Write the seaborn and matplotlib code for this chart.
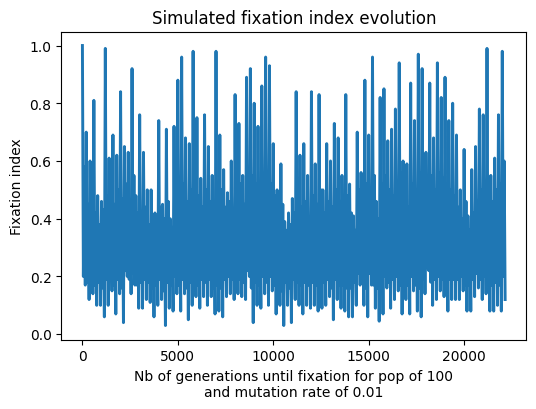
"""
Simulated fixation index evolution over generations (pop 100, mu 0.01).

Line plot of the fixation index, drawn with seaborn on plain matplotlib style.
Output: out.png
"""

import matplotlib

matplotlib.use("Agg")

import matplotlib.pyplot as plt
import numpy as np
import pandas as pd
import seaborn as sns

STEP = 50  # generations between consecutive samples

# local maxima, one per ~200 generations
PEAKS = [
    1.00, 0.70, 0.60, 0.81, 0.48, 0.46, 0.99, 0.61, 0.69, 0.62,
    0.84, 0.65, 0.63, 0.92, 0.48, 0.76, 0.63, 0.50, 0.50, 0.42,
    0.74, 0.45, 0.71, 0.40, 0.72, 0.88, 0.96, 0.68, 0.66, 0.98,
    0.75, 0.54, 0.76, 0.65, 0.55, 0.98, 0.69, 0.57, 0.49, 0.60,
    0.83, 0.73, 0.55, 0.89, 0.92, 0.80, 0.72, 0.86, 0.96, 0.93,
    0.66, 0.50, 0.59, 0.39, 0.42, 0.47, 0.84, 0.62, 0.66, 0.55,
    0.84, 0.59, 0.83, 0.50, 0.66, 0.60, 0.73, 0.68, 0.55, 0.83,
    0.52, 0.41, 0.70, 0.56, 0.88, 0.69, 0.96, 0.46, 0.82, 0.85,
    0.67, 0.71, 0.78, 0.94, 0.60, 0.59, 0.87, 0.74, 0.97, 0.92,
    0.63, 0.87, 0.68, 0.94, 0.82, 0.89, 0.74, 0.80, 0.69, 0.50,
    0.64, 0.41, 0.57, 0.65, 0.78, 0.76, 0.99, 0.55, 0.61, 0.76,
    0.98,
]

# local minima in between the peaks
TROUGHS = [
    0.17, 0.12, 0.14, 0.10, 0.10, 0.06, 0.10, 0.15, 0.07, 0.14,
    0.04, 0.20, 0.14, 0.17, 0.09, 0.09, 0.12, 0.11, 0.06, 0.10,
    0.12, 0.03, 0.09, 0.08, 0.14, 0.08, 0.14, 0.05, 0.10, 0.13,
    0.09, 0.13, 0.10, 0.13, 0.07, 0.08, 0.06, 0.13, 0.14, 0.12,
    0.14, 0.13, 0.12, 0.20, 0.04, 0.10, 0.09, 0.14, 0.10, 0.15,
    0.07, 0.10, 0.03, 0.10, 0.04, 0.12, 0.10, 0.07, 0.10, 0.09,
    0.10, 0.08, 0.09, 0.10, 0.13, 0.05, 0.12, 0.09, 0.08, 0.06,
    0.06, 0.10, 0.17, 0.10, 0.06, 0.17, 0.09, 0.045, 0.07, 0.16,
    0.09, 0.12, 0.15, 0.07, 0.12, 0.07, 0.15, 0.08, 0.06, 0.14,
    0.22, 0.10, 0.12, 0.15, 0.13, 0.08, 0.12, 0.12, 0.12, 0.15,
    0.08, 0.08, 0.13, 0.16, 0.12, 0.14, 0.08, 0.08, 0.10, 0.08,
    0.12,
]

# top of the dense core of the band, per ~200 generations
CORE_TOP = [
    0.58, 0.45, 0.40, 0.42, 0.38, 0.43, 0.48, 0.40, 0.45, 0.50,
    0.47, 0.52, 0.46, 0.55, 0.42, 0.40, 0.44, 0.38, 0.41, 0.36,
    0.44, 0.40, 0.46, 0.37, 0.45, 0.48, 0.52, 0.46, 0.50, 0.55,
    0.48, 0.44, 0.50, 0.46, 0.42, 0.52, 0.50, 0.44, 0.46, 0.40,
    0.48, 0.52, 0.45, 0.50, 0.55, 0.52, 0.46, 0.50, 0.56, 0.52,
    0.48, 0.43, 0.45, 0.36, 0.38, 0.42, 0.50, 0.44, 0.46, 0.40,
    0.48, 0.45, 0.50, 0.42, 0.46, 0.44, 0.50, 0.46, 0.43, 0.48,
    0.42, 0.36, 0.50, 0.44, 0.52, 0.48, 0.55, 0.40, 0.52, 0.55,
    0.50, 0.48, 0.52, 0.56, 0.46, 0.44, 0.52, 0.50, 0.56, 0.55,
    0.48, 0.55, 0.50, 0.56, 0.54, 0.52, 0.50, 0.48, 0.44, 0.40,
    0.46, 0.36, 0.42, 0.46, 0.50, 0.48, 0.54, 0.46, 0.50, 0.52,
    0.60,
]

# bottom of the dense core of the band
CORE_LOW = [
    0.20, 0.18, 0.19, 0.17, 0.18, 0.16, 0.19, 0.20, 0.17, 0.19,
    0.16, 0.22, 0.19, 0.21, 0.17, 0.18, 0.19, 0.18, 0.16, 0.17,
    0.19, 0.15, 0.18, 0.17, 0.20, 0.17, 0.19, 0.16, 0.18, 0.19,
    0.17, 0.19, 0.18, 0.19, 0.16, 0.17, 0.16, 0.19, 0.20, 0.19,
    0.20, 0.19, 0.18, 0.22, 0.16, 0.18, 0.17, 0.20, 0.18, 0.20,
    0.17, 0.18, 0.15, 0.18, 0.16, 0.19, 0.18, 0.17, 0.18, 0.17,
    0.18, 0.17, 0.18, 0.18, 0.19, 0.16, 0.19, 0.17, 0.17, 0.16,
    0.16, 0.18, 0.21, 0.18, 0.16, 0.21, 0.17, 0.16, 0.17, 0.20,
    0.18, 0.19, 0.20, 0.17, 0.19, 0.17, 0.20, 0.17, 0.16, 0.19,
    0.23, 0.18, 0.19, 0.20, 0.19, 0.17, 0.19, 0.19, 0.19, 0.20,
    0.17, 0.17, 0.19, 0.21, 0.19, 0.20, 0.17, 0.17, 0.18, 0.17,
    0.20,
]


def main() -> None:
    values = []
    for hi, c_lo, c_hi, lo in zip(PEAKS, CORE_LOW, CORE_TOP, TROUGHS):
        values.extend([hi, c_lo, c_hi, lo])
    df = pd.DataFrame({
        "generation": np.arange(len(values)) * STEP,
        "fst": values,
    })

    fig, ax = plt.subplots(figsize=(6, 4), dpi=100)
    sns.lineplot(data=df, x="generation", y="fst", estimator=None,
                 color="#1f77b4", linewidth=2.1, ax=ax)
    ax.set_title("Simulated fixation index evolution")
    ax.set_xlabel("Nb of generations until fixation for pop of 100\n"
                  "and mutation rate of 0.01")
    ax.set_ylabel("Fixation index")
    fig.savefig("out.png", dpi=100, bbox_inches="tight")
    plt.close(fig)


if __name__ == "__main__":
    main()
